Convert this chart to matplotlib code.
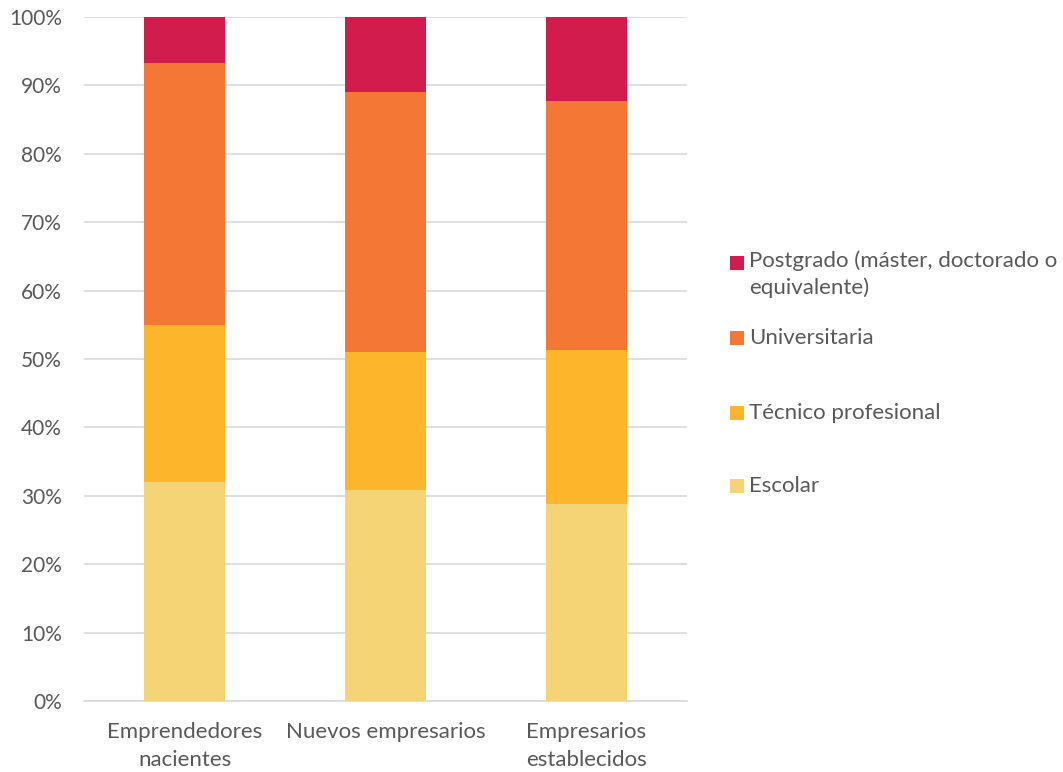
import matplotlib
matplotlib.use("Agg")
import matplotlib.pyplot as plt
from matplotlib.patches import Rectangle
from matplotlib.ticker import PercentFormatter

categories = ["Emprendedores\nnacientes", "Nuevos empresarios", "Empresarios\nestablecidos"]
series_names = ["Escolar", "Técnico profesional", "Universitaria",
                "Postgrado (máster, doctorado o\nequivalente)"]
escolar = [32.0, 30.8, 28.8]
tecnico = [23.0, 20.2, 22.5]
universitaria = [38.3, 38.0, 36.4]
postgrado = [6.7, 11.0, 12.3]
colors = ["#F5D475", "#FDB52B", "#F47735", "#D31C4E"]

text_color = "#595959"
plt.rcParams["font.family"] = ["Lato", "DejaVu Sans"]

W, H = 1063, 772
fig = plt.figure(figsize=(W / 100, H / 100), dpi=100)
ax = fig.add_axes([84 / W, (H - 701) / H, (687 - 84) / W, (701 - 17) / H])

x = list(range(len(categories)))
bottom = [0.0] * len(categories)
for vals, col, name in zip([escolar, tecnico, universitaria, postgrado], colors, series_names):
    ax.bar(x, vals, width=0.4, bottom=bottom, color=col, label=name, zorder=3)
    bottom = [bt + v for bt, v in zip(bottom, vals)]

ax.set_xlim(-0.5, 2.5)
ax.set_ylim(0, 100)
ax.set_yticks(range(0, 101, 10))
ax.yaxis.set_major_formatter(PercentFormatter(decimals=0))
ax.set_xticks(x)
ax.set_xticklabels(categories, linespacing=1.5)
ax.grid(axis="y", color="#D9D9D9", linewidth=1.2, zorder=0)
for s in ["top", "right", "left"]:
    ax.spines[s].set_visible(False)
ax.spines["bottom"].set_color("#D9D9D9")
ax.spines["bottom"].set_linewidth(1.2)
ax.tick_params(axis="both", length=0, colors=text_color)
ax.tick_params(axis="y", pad=16, labelsize=15)
ax.tick_params(axis="x", pad=15, labelsize=16)

# legend drawn manually (figure pixel coordinates from the top-left)
leg_y = [486, 413, 338, 263]
for name, col, yc in zip(series_names, colors, leg_y):
    fig.patches.append(Rectangle((730 / W, (H - yc - 7) / H), 14 / W, 14 / H,
                                 transform=fig.transFigure, facecolor=col,
                                 edgecolor="none"))
    if "\n" in name:
        fig.text(749 / W, (H - yc + 13) / H, name, color=text_color, fontsize=16,
                 va="top", ha="left", linespacing=1.4)
    else:
        fig.text(749 / W, (H - yc) / H, name, color=text_color, fontsize=16,
                 va="center", ha="left")

fig.savefig("out.png", dpi=100)
